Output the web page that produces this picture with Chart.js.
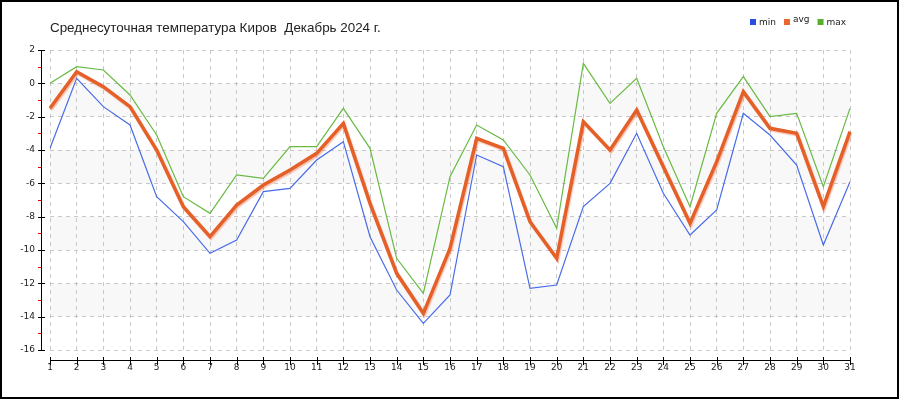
<!DOCTYPE html>
<html>
<head>
<meta charset="utf-8">
<script src="https://cdn.jsdelivr.net/npm/chart.js@4.4.1/dist/chart.umd.min.js"></script>
<style>
    body { margin: 0; background: #fff; }
    #wrap { width: 900px; height: 400px; position: relative; }
</style>
</head>
<body>
<div id="wrap"><canvas id="chart" width="900" height="400"></canvas></div>
<script>
    var titleText = 'Среднесуточная температура Киров  Декабрь 2024 г.';
    var days = [];
    for (var d = 1; d <= 31; d++) days.push(String(d));

    var minT = [-3.9, 0.3, -1.4, -2.5, -6.8, -8.3, -10.2, -9.4, -6.5, -6.3, -4.6, -3.5, -9.2, -12.4, -14.4, -12.7,
        -4.3, -5.0, -12.3, -12.1, -7.4, -6.0, -3.0, -6.6, -9.1, -7.6, -1.8, -3.1, -4.9, -9.7, -5.9];
    var avgT = [-1.5, 0.7, -0.2, -1.4, -4.0, -7.4, -9.2, -7.3, -6.1, -5.2, -4.2, -2.4, -7.2, -11.4, -13.8, -9.9,
        -3.3, -3.9, -8.3, -10.5, -2.3, -4.0, -1.6, -5.0, -8.4, -4.7, -0.5, -2.7, -3.0, -7.4, -2.9];
    var maxT = [0.0, 1.0, 0.8, -0.7, -3.1, -6.8, -7.8, -5.5, -5.7, -3.8, -3.8, -1.5, -3.9, -10.5, -12.6, -5.6,
        -2.5, -3.4, -5.5, -8.7, 1.2, -1.2, 0.3, -3.8, -7.4, -1.8, 0.4, -2.0, -1.8, -6.2, -1.5];

    var yMin = -16, yMax = 2, yStep = 2;
    var bands = [[0, -2], [-4, -6], [-8, -10], [-12, -14]];

    var legendColors = ['#2a4de0', '#e8682e', '#52b02a'];

    // background bands
    var backPlugin = {
        id: 'back',
        beforeDraw: function (chart) {
            var ctx = chart.ctx, a = chart.chartArea, y = chart.scales.y;
            ctx.save();
            ctx.fillStyle = '#f8f8f8';
            bands.forEach(function (b) {
                var y1 = y.getPixelForValue(b[0]), y2 = y.getPixelForValue(b[1]);
                ctx.fillRect(a.left, y1, a.right - a.left, y2 - y1);
            });
            ctx.restore();
        }
    };

    // axes drawn offset from the plot area, title, legend, frame
    var decoPlugin = {
        id: 'deco',
        afterDraw: function (chart) {
            var ctx = chart.ctx, a = chart.chartArea, ys = chart.scales.y, xs = chart.scales.x;
            ctx.save();
            ctx.lineWidth = 1;

            // y axis
            var ax = 41.5;
            ctx.strokeStyle = '#000';
            ctx.beginPath();
            ctx.moveTo(ax, a.top);
            ctx.lineTo(ax, a.bottom);
            for (var v = yMin; v <= yMax; v += yStep) {
                var py = Math.round(ys.getPixelForValue(v)) + 0.5;
                ctx.moveTo(38, py);
                ctx.lineTo(45, py);
            }
            ctx.stroke();
            ctx.strokeStyle = '#e00000';
            ctx.beginPath();
            for (var m = yMin + 1; m < yMax; m += yStep) {
                var my = Math.round(ys.getPixelForValue(m)) + 0.5;
                ctx.moveTo(38, my);
                ctx.lineTo(41, my);
            }
            ctx.stroke();

            // x axis
            var bx = 360.5;
            ctx.strokeStyle = '#000';
            ctx.beginPath();
            ctx.moveTo(a.left, bx);
            ctx.lineTo(a.right, bx);
            for (var i = 0; i < days.length; i++) {
                var px = Math.round(xs.getPixelForValue(i)) + 0.5;
                ctx.moveTo(px, 357);
                ctx.lineTo(px, 365);
            }
            ctx.stroke();

            // title
            ctx.fillStyle = '#222';
            ctx.font = '13.4px "Liberation Sans", Arial, sans-serif';
            ctx.textBaseline = 'middle';
            ctx.textAlign = 'left';
            ctx.fillText(titleText, a.left, 28);

            // legend
            ctx.font = '9px "DejaVu Sans", sans-serif';
            var lx = 750;
            chart.data.datasets.forEach(function (ds, k) {
                ctx.fillStyle = legendColors[k];
                ctx.fillRect(lx, 19, 6, 6);
                ctx.fillStyle = '#222';
                ctx.fillText(ds.label, lx + 9, k === 1 ? 20 : 22.5);
                lx += 9 + ctx.measureText(ds.label).width + 8;
            });

            // frame
            ctx.strokeStyle = '#000';
            ctx.lineWidth = 2;
            ctx.strokeRect(1, 1, 897, 397);
            ctx.restore();
        }
    };

    // soft halo under the avg line
    var shadowPlugin = {
        id: 'halo',
        beforeDatasetDraw: function (chart, args) {
            if (args.index === 1) {
                var ctx = chart.ctx;
                ctx.save();
                ctx.shadowColor = 'rgba(240, 120, 80, 0.45)';
                ctx.shadowOffsetX = 1;
                ctx.shadowOffsetY = 1.5;
                ctx.shadowBlur = 1;
            }
        },
        afterDatasetDraw: function (chart, args) {
            if (args.index === 1) chart.ctx.restore();
        }
    };

    var data = {
        labels: days,
        datasets: [{
            label: 'min',
            data: minT,
            borderColor: 'rgb(72, 108, 232)',
            borderWidth: 1.2,
            pointRadius: 0,
            order: 2
        }, {
            label: 'avg',
            data: avgT,
            borderColor: 'rgb(228, 96, 40)',
            borderWidth: 3.5,
            pointRadius: 0,
            order: 1
        }, {
            label: 'max',
            data: maxT,
            borderColor: 'rgb(104, 186, 66)',
            borderWidth: 1.2,
            pointRadius: 0,
            order: 3
        }]
    };

    var config = {
        type: 'line',
        data: data,
        options: {
            responsive: false,
            animation: false,
            layout: { padding: { left: 0, right: 50, top: 50, bottom: 0 } },
            scales: {
                x: {
                    afterFit: function (scale) { scale.height = 50; },
                    grid: { color: '#c8c8c8', drawTicks: false },
                    border: { display: false, dash: [4, 4] },
                    ticks: {
                        autoSkip: false,
                        maxRotation: 0,
                        padding: 12,
                        color: '#222',
                        font: { family: '"DejaVu Sans", sans-serif', size: 9 }
                    }
                },
                y: {
                    min: yMin,
                    max: yMax,
                    afterFit: function (scale) { scale.width = 50; },
                    grid: { color: '#c8c8c8', drawTicks: false },
                    border: { display: false, dash: [4, 4] },
                    ticks: {
                        stepSize: yStep,
                        padding: 15,
                        color: '#222',
                        font: { family: '"DejaVu Sans", sans-serif', size: 9 }
                    }
                }
            },
            plugins: {
                legend: { display: false },
                title: { display: false },
                tooltip: { enabled: false }
            }
        },
        plugins: [backPlugin, shadowPlugin, decoPlugin]
    };

    new Chart(document.getElementById('chart'), config);
</script>
</body>
</html>
